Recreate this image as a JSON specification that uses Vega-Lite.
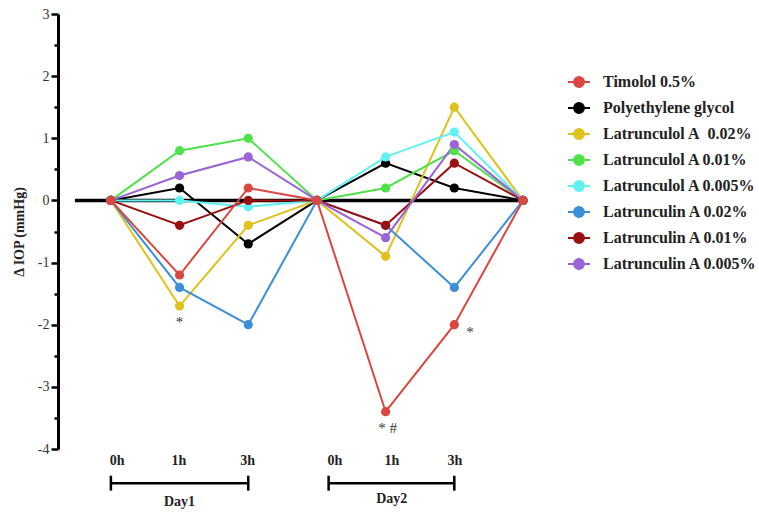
{
  "$schema": "https://vega.github.io/schema/vega-lite/v6.json",
  "width": 465,
  "height": 435,
  "autosize": {"type": "none"},
  "padding": {"left": 58, "top": 14, "right": 236, "bottom": 63},
  "background": "white",
  "config": {"view": {"stroke": null}, "font": "Liberation Serif"},
  "datasets": {
    "base": [{"pos": 0.476, "v": 0}, {"pos": 7, "v": 0}],
    "iop": [
      {"series": "Polyethylene glycol", "pos": 1, "v": 0}, {"series": "Polyethylene glycol", "pos": 2, "v": 0.2}, {"series": "Polyethylene glycol", "pos": 3, "v": -0.7}, {"series": "Polyethylene glycol", "pos": 4, "v": 0}, {"series": "Polyethylene glycol", "pos": 5, "v": 0.6}, {"series": "Polyethylene glycol", "pos": 6, "v": 0.2}, {"series": "Polyethylene glycol", "pos": 7, "v": 0},
      {"series": "Latrunculol A\u00a0 0.02%", "pos": 1, "v": 0}, {"series": "Latrunculol A\u00a0 0.02%", "pos": 2, "v": -1.7}, {"series": "Latrunculol A\u00a0 0.02%", "pos": 3, "v": -0.4}, {"series": "Latrunculol A\u00a0 0.02%", "pos": 4, "v": 0}, {"series": "Latrunculol A\u00a0 0.02%", "pos": 5, "v": -0.9}, {"series": "Latrunculol A\u00a0 0.02%", "pos": 6, "v": 1.5}, {"series": "Latrunculol A\u00a0 0.02%", "pos": 7, "v": 0},
      {"series": "Latrunculol A 0.01%", "pos": 1, "v": 0}, {"series": "Latrunculol A 0.01%", "pos": 2, "v": 0.8}, {"series": "Latrunculol A 0.01%", "pos": 3, "v": 1.0}, {"series": "Latrunculol A 0.01%", "pos": 4, "v": 0}, {"series": "Latrunculol A 0.01%", "pos": 5, "v": 0.2}, {"series": "Latrunculol A 0.01%", "pos": 6, "v": 0.8}, {"series": "Latrunculol A 0.01%", "pos": 7, "v": 0},
      {"series": "Latrunculol A 0.005%", "pos": 1, "v": 0}, {"series": "Latrunculol A 0.005%", "pos": 2, "v": 0.0}, {"series": "Latrunculol A 0.005%", "pos": 3, "v": -0.1}, {"series": "Latrunculol A 0.005%", "pos": 4, "v": 0}, {"series": "Latrunculol A 0.005%", "pos": 5, "v": 0.7}, {"series": "Latrunculol A 0.005%", "pos": 6, "v": 1.1}, {"series": "Latrunculol A 0.005%", "pos": 7, "v": 0},
      {"series": "Latrunculin A 0.02%", "pos": 1, "v": 0}, {"series": "Latrunculin A 0.02%", "pos": 2, "v": -1.4}, {"series": "Latrunculin A 0.02%", "pos": 3, "v": -2.0}, {"series": "Latrunculin A 0.02%", "pos": 4, "v": 0}, {"series": "Latrunculin A 0.02%", "pos": 5, "v": -0.4}, {"series": "Latrunculin A 0.02%", "pos": 6, "v": -1.4}, {"series": "Latrunculin A 0.02%", "pos": 7, "v": 0},
      {"series": "Latrunculin A 0.01%", "pos": 1, "v": 0}, {"series": "Latrunculin A 0.01%", "pos": 2, "v": -0.4}, {"series": "Latrunculin A 0.01%", "pos": 3, "v": 0.0}, {"series": "Latrunculin A 0.01%", "pos": 4, "v": 0}, {"series": "Latrunculin A 0.01%", "pos": 5, "v": -0.4}, {"series": "Latrunculin A 0.01%", "pos": 6, "v": 0.6}, {"series": "Latrunculin A 0.01%", "pos": 7, "v": 0},
      {"series": "Latrunculin A 0.005%", "pos": 1, "v": 0}, {"series": "Latrunculin A 0.005%", "pos": 2, "v": 0.4}, {"series": "Latrunculin A 0.005%", "pos": 3, "v": 0.7}, {"series": "Latrunculin A 0.005%", "pos": 4, "v": 0}, {"series": "Latrunculin A 0.005%", "pos": 5, "v": -0.6}, {"series": "Latrunculin A 0.005%", "pos": 6, "v": 0.9}, {"series": "Latrunculin A 0.005%", "pos": 7, "v": 0},
      {"series": "Timolol 0.5%", "pos": 1, "v": 0}, {"series": "Timolol 0.5%", "pos": 2, "v": -1.2}, {"series": "Timolol 0.5%", "pos": 3, "v": 0.2}, {"series": "Timolol 0.5%", "pos": 4, "v": 0}, {"series": "Timolol 0.5%", "pos": 5, "v": -3.4}, {"series": "Timolol 0.5%", "pos": 6, "v": -2.0}, {"series": "Timolol 0.5%", "pos": 7, "v": 0}
    ],
    "marks": [
      {"pos": 2.0, "v": -1.95, "label": "*"},
      {"pos": 6.23, "v": -2.12, "label": "*"},
      {"pos": 5.03, "v": -3.66, "label": "* #"}
    ],
    "hours": [
      {"pos": 1.09, "v": -4.2, "label": "0h"},
      {"pos": 1.99, "v": -4.2, "label": "1h"},
      {"pos": 2.99, "v": -4.2, "label": "3h"},
      {"pos": 4.26, "v": -4.2, "label": "0h"},
      {"pos": 5.09, "v": -4.2, "label": "1h"},
      {"pos": 6.01, "v": -4.2, "label": "3h"}
    ],
    "days": [
      {"pos": 2.0, "v": -4.86, "label": "Day1"},
      {"pos": 5.09, "v": -4.8, "label": "Day2"}
    ],
    "brackets": [
      {"pos": 1.0, "pos2": 3.0, "v": -4.55},
      {"pos": 4.17, "pos2": 6.0, "v": -4.55}
    ],
    "caps": [
      {"pos": 1.0, "v": -4.43, "v2": -4.67},
      {"pos": 3.0, "v": -4.43, "v2": -4.67},
      {"pos": 4.17, "v": -4.43, "v2": -4.67},
      {"pos": 6.0, "v": -4.43, "v2": -4.67}
    ]
  },
  "encoding": {
    "x": {"field": "pos", "type": "quantitative", "scale": {"domain": [0.23, 7], "nice": false, "zero": false}, "axis": null},
    "y": {
      "field": "v", "type": "quantitative",
      "scale": {"domain": [-4, 3], "nice": false},
      "axis": {
        "title": "Δ IOP (mmHg)",
        "titleFont": "Liberation Serif", "titleFontSize": 14, "titleFontWeight": "bold", "titleColor": "#222", "titlePadding": 11,
        "values": [-4, -3.5, -3, -2.5, -2, -1.5, -1, -0.5, 0, 0.5, 1, 1.5, 2, 2.5, 3],
        "labelExpr": "datum.value % 1 === 0 ? '' + datum.value : ''",
        "labelFont": "Liberation Serif", "labelFontSize": 14, "labelColor": "#333",
        "domainColor": "black", "domainWidth": 3,
        "tickColor": "black", "tickWidth": 2.5,
        "tickSize": {"condition": {"test": "datum.value % 1 !== 0", "value": 4}, "value": 7},
        "labelPadding": 2,
        "grid": false
      }
    }
  },
  "layer": [
    {
      "data": {"name": "base"},
      "mark": {"type": "line", "color": "black", "strokeWidth": 3.5, "clip": false}
    },
    {
      "data": {"name": "iop"},
      "mark": {"type": "line", "strokeWidth": 2, "clip": false},
      "encoding": {
        "color": {
          "field": "series", "type": "nominal",
          "scale": {
            "domain": ["Timolol 0.5%", "Polyethylene glycol", "Latrunculol A\u00a0 0.02%", "Latrunculol A 0.01%", "Latrunculol A 0.005%", "Latrunculin A 0.02%", "Latrunculin A 0.01%", "Latrunculin A 0.005%"],
            "range": ["#db4640", "#000000", "#e0c21c", "#4fe04a", "#5ff2f0", "#3d8fd8", "#9a1010", "#9a63d8"]
          },
          "legend": {
            "title": null,
            "orient": "none",
            "legendX": 509,
            "legendY": 56,
            "labelFont": "Liberation Serif",
            "labelFontSize": 16,
            "labelFontWeight": "bold",
            "labelColor": "#222",
            "labelLimit": 300,
            "labelOffset": 12,
            "rowPadding": 5,
            "symbolType": "M-1,0L1,0M-0.45,0A0.45,0.45,0,1,1,0.45,0A0.45,0.45,0,1,1,-0.45,0Z",
            "symbolSize": 484,
            "symbolStrokeWidth": 2,
            "encode": {
              "symbols": {"update": {"fill": {"scale": "color", "field": "value"}, "stroke": {"scale": "color", "field": "value"}, "opacity": {"value": 1}}}
            }
          }
        },
        "order": {"field": "pos", "type": "quantitative"}
      }
    },
    {
      "data": {"name": "iop"},
      "mark": {"type": "circle", "size": 85, "opacity": 1, "clip": false},
      "encoding": {
        "color": {"field": "series", "type": "nominal"}
      }
    },
    {
      "data": {"name": "marks"},
      "mark": {"type": "text", "font": "Liberation Serif", "fontSize": 15, "color": "#333", "clip": false, "baseline": "middle"},
      "encoding": {"text": {"field": "label"}}
    },
    {
      "data": {"name": "hours"},
      "mark": {"type": "text", "font": "Liberation Serif", "fontSize": 14, "fontWeight": "bold", "color": "#222", "clip": false, "baseline": "middle"},
      "encoding": {"text": {"field": "label"}}
    },
    {
      "data": {"name": "days"},
      "mark": {"type": "text", "font": "Liberation Serif", "fontSize": 14, "fontWeight": "bold", "color": "#222", "clip": false, "baseline": "middle"},
      "encoding": {"text": {"field": "label"}}
    },
    {
      "data": {"name": "brackets"},
      "mark": {"type": "rule", "color": "black", "strokeWidth": 2.5, "clip": false},
      "encoding": {"x2": {"field": "pos2"}}
    },
    {
      "data": {"name": "caps"},
      "mark": {"type": "rule", "color": "black", "strokeWidth": 2.5, "clip": false},
      "encoding": {"y2": {"field": "v2"}}
    }
  ]
}
